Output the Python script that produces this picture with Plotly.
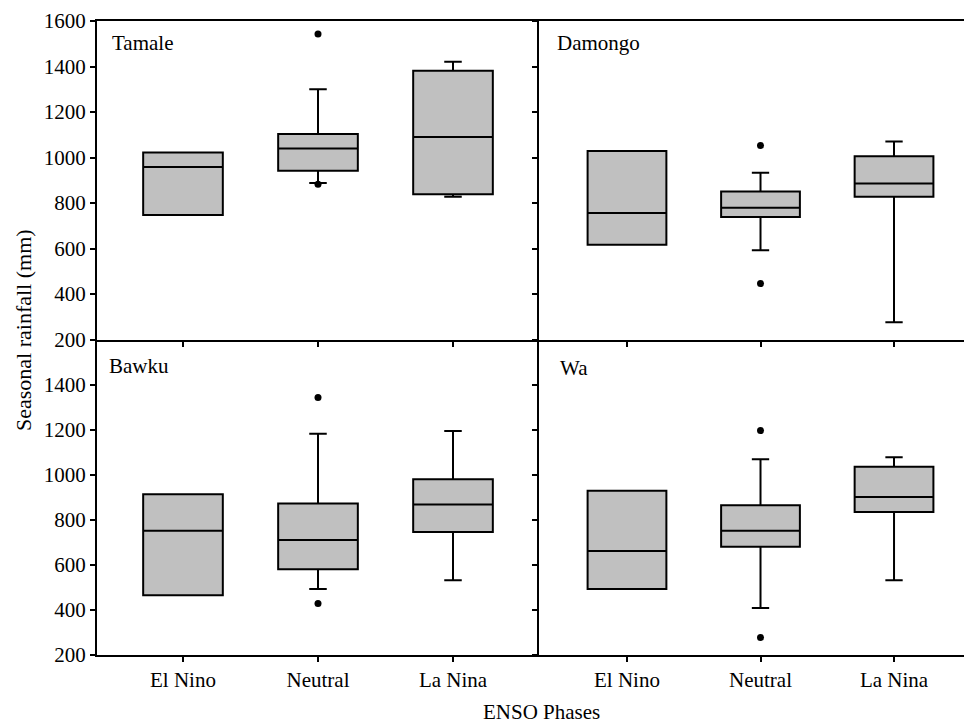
import plotly.graph_objects as go

phases = ["El Nino", "Neutral", "La Nina"]
stations = ["Tamale", "Damongo", "Bawku", "Wa"]

# box statistics per station: [El Nino, Neutral, La Nina]
lowerfence = {
    "Tamale":  [747, 888, 828],
    "Damongo": [617, 592, 276],
    "Bawku":   [465, 493, 532],
    "Wa":      [493, 409, 532],
}
q1 = {
    "Tamale":  [747, 942, 838],
    "Damongo": [617, 738, 828],
    "Bawku":   [465, 581, 746],
    "Wa":      [493, 680, 834],
}
median = {
    "Tamale":  [958, 1040, 1090],
    "Damongo": [756, 779, 886],
    "Bawku":   [751, 710, 868],
    "Wa":      [662, 751, 901],
}
q3 = {
    "Tamale":  [1022, 1103, 1381],
    "Damongo": [1029, 851, 1006],
    "Bawku":   [913, 872, 980],
    "Wa":      [929, 865, 1035],
}
upperfence = {
    "Tamale":  [1022, 1300, 1421],
    "Damongo": [1029, 933, 1070],
    "Bawku":   [913, 1182, 1194],
    "Wa":      [929, 1069, 1077],
}
# outliers (phase, value)
outlier_phase = {
    "Tamale":  ["Neutral", "Neutral"],
    "Damongo": ["Neutral", "Neutral"],
    "Bawku":   ["Neutral", "Neutral"],
    "Wa":      ["Neutral", "Neutral"],
}
outlier_value = {
    "Tamale":  [1543, 882],
    "Damongo": [1053, 446],
    "Bawku":   [1343, 428],
    "Wa":      [1196, 278],
}

y_ticks = [200, 400, 600, 800, 1000, 1200, 1400, 1600]
y_ticks_bottom = [200, 400, 600, 800, 1000, 1200, 1400]

FONT = "'Liberation Serif', 'Times New Roman', serif"
FS = 21

# the page body adds an 8px offset; figure coordinates = screen - 8
OFF = 8
W, H = 972 - OFF, 723 - OFF
L, T, R, B = 97 - OFF, 21 - OFF, 0, H - (655 - OFF)

axes = {
    "Tamale":  ("x", "y"),
    "Damongo": ("x2", "y2"),
    "Bawku":   ("x3", "y3"),
    "Wa":      ("x4", "y4"),
}

fig = go.Figure()
for st in stations:
    xa, ya = axes[st]
    fig.add_trace(go.Box(
        x=list(range(len(phases))),
        q1=q1[st], median=median[st], q3=q3[st],
        lowerfence=lowerfence[st], upperfence=upperfence[st],
        fillcolor="#c0c0c0",
        line=dict(color="black", width=2),
        whiskerwidth=0.22,
        width=0.59,
        boxpoints=False,
        xaxis=xa, yaxis=ya,
        showlegend=False,
        hoverinfo="skip",
    ))
    fig.add_trace(go.Scatter(
        x=[phases.index(p) for p in outlier_phase[st]],
        y=outlier_value[st],
        mode="markers",
        marker=dict(color="black", size=7, symbol="circle"),
        xaxis=xa, yaxis=ya,
        showlegend=False,
        hoverinfo="skip",
    ))

plot_w = W - L - R
plot_h = H - T - B
split_x = (539 - 97) / plot_w
split_y = (655 - 339.5) / plot_h

common_x = dict(
    tickmode="array", tickvals=[0, 1, 2],
    showline=True, linecolor="black", linewidth=2,
    ticks="outside", ticklen=5, tickwidth=2, tickcolor="black",
    showgrid=False, zeroline=False, automargin=False,
    tickfont=dict(family=FONT, size=FS, color="black"),
)
common_y = dict(
    range=[200, 1600],
    showline=True, linecolor="black", linewidth=2,
    ticks="outside", ticklen=5, tickwidth=2, tickcolor="black",
    showgrid=False, zeroline=False, automargin=False,
    tickfont=dict(family=FONT, size=FS, color="black"),
)

fig.update_layout(
    template="none",
    width=W, height=H,
    margin=dict(l=L, r=R, t=T, b=B, autoexpand=False),
    paper_bgcolor="white", plot_bgcolor="white",
    font=dict(family=FONT, size=FS, color="black"),
    xaxis=dict(common_x, domain=[0, split_x], range=[-0.637, 2.637], anchor="y",
               ticktext=["", "", ""], mirror=True),
    yaxis=dict(common_y, domain=[split_y, 1], anchor="x",
               tickvals=y_ticks, ticktext=[str(v) for v in y_ticks]),
    xaxis2=dict(common_x, domain=[split_x, 1], range=[-0.659, 2.584], anchor="y2",
                ticktext=["", "", ""], mirror=True),
    yaxis2=dict(common_y, domain=[split_y, 1], anchor="x2",
                tickvals=y_ticks, ticktext=["" for v in y_ticks]),
    xaxis3=dict(common_x, domain=[0, split_x], range=[-0.637, 2.637], anchor="y3",
                ticktext=phases),
    yaxis3=dict(common_y, domain=[0, split_y], anchor="x3",
                tickvals=y_ticks_bottom, ticktext=[str(v) for v in y_ticks_bottom]),
    xaxis4=dict(common_x, domain=[split_x, 1], range=[-0.659, 2.584], anchor="y4",
                ticktext=phases),
    yaxis4=dict(common_y, domain=[0, split_y], anchor="x4",
                tickvals=y_ticks_bottom, ticktext=["" for v in y_ticks_bottom]),
)

labels = [("Tamale", "x", "y", 13, 22), ("Damongo", "x2", "y2", 16, 22),
          ("Bawku", "x3", "y3", 10, 26), ("Wa", "x4", "y4", 19, 28)]
for text, xa, ya, dx, dy in labels:
    fig.add_annotation(
        text=text, xref=xa + " domain", yref=ya + " domain",
        x=0, y=1, xanchor="left", yanchor="middle",
        xshift=dx, yshift=-dy, showarrow=False,
        font=dict(family=FONT, size=FS, color="black"),
    )

fig.add_annotation(
    text="ENSO Phases", xref="paper", yref="paper",
    x=(541 - 97) / plot_w, y=0, xanchor="center", yanchor="middle",
    yshift=-(712 - 655), showarrow=False,
    font=dict(family=FONT, size=FS, color="black"),
)
fig.add_annotation(
    text="Seasonal rainfall (mm)", xref="paper", yref="paper",
    x=0, y=(655 - 330) / plot_h, xanchor="center", yanchor="middle",
    xshift=-(97 - 23), textangle=-90, showarrow=False,
    font=dict(family=FONT, size=22, color="black"),
)

fig.write_html("out.html")
